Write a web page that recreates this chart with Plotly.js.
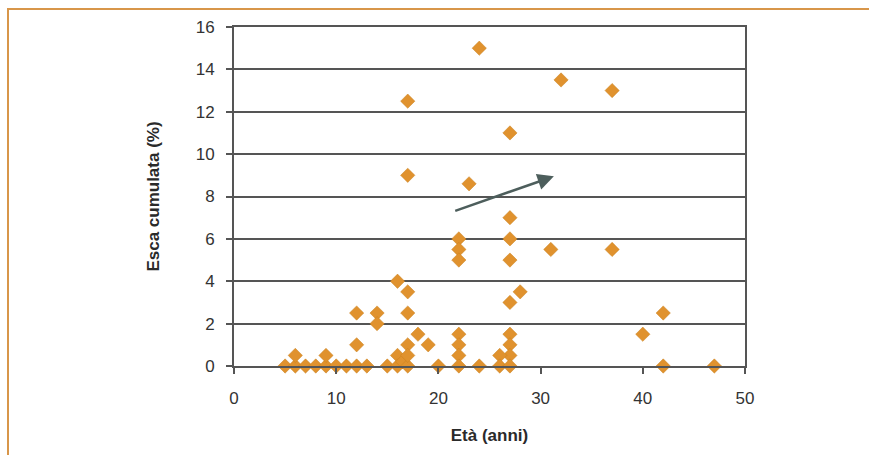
<!DOCTYPE html>
<html>
<head>
<meta charset="utf-8">
<script src="https://cdn.plot.ly/plotly-3.0.1.min.js"></script>
<style>
  html, body { margin: 0; padding: 0; background: #ffffff; }
  #wrap { position: relative; width: 869px; height: 455px; overflow: hidden; }
  #chart { position: absolute; left: 0; top: 0; width: 869px; height: 455px; }
  #frame { position: absolute; left: 7px; top: 8px; width: 900px; height: 500px;
           border-top: 2px solid #D8964A; border-left: 2px solid #D8964A; pointer-events: none; }
</style>
</head>
<body>
<div id="wrap">
  <div id="chart"></div>
  <div id="frame"></div>
</div>
<script>
// Età (anni) of each observation
const eta = [
  24, 32, 37, 17, 27, 17, 23,
  27, 27, 27, 22, 22, 22, 31, 37,
  16, 17, 17, 12, 14, 14, 12, 18, 17, 19, 16, 28, 27, 42, 40,
  22, 22, 22, 27, 27, 27, 26,
  5, 6, 6, 7, 8, 9, 9, 10, 11, 12, 13, 15, 16, 16.5, 17, 17, 20, 22, 24, 26, 27, 42, 47
];
// Esca cumulata (%) of each observation
const esca = [
  15, 13.5, 13, 12.5, 11, 9, 8.6,
  7, 6, 5, 6, 5.5, 5, 5.5, 5.5,
  4, 3.5, 2.5, 2.5, 2.5, 2, 1, 1.5, 1, 1, 0.5, 3.5, 3, 2.5, 1.5,
  1.5, 1, 0.5, 1.5, 1, 0.5, 0.5,
  0, 0, 0.5, 0, 0, 0, 0.5, 0, 0, 0, 0, 0, 0, 0.2, 0, 0.5, 0, 0, 0, 0, 0, 0, 0
];
// trend arrow (tail, head) in data units
const arrowTail = [21.5, 7.3];
const arrowHead = [31.3, 8.95];
const xTicks = [0, 10, 20, 30, 40, 50];
const yTicks = [0, 2, 4, 6, 8, 10, 12, 14, 16];

const trace = {
  x: eta, y: esca, type: 'scatter', mode: 'markers',
  marker: { symbol: 'diamond', size: 11, color: '#E0922E',
            line: { color: '#C9801F', width: 0.5 } },
  hoverinfo: 'x+y', cliponaxis: false
};

const axisFont = { family: 'Liberation Sans, Arial, sans-serif', size: 17, color: '#333333' };
const titleFont = { family: 'Liberation Sans, Arial, sans-serif', size: 17, color: '#2a2a2a', weight: 'bold' };

const layout = {
  width: 869, height: 455,
  margin: { l: 234, r: 124, t: 27, b: 89 },
  paper_bgcolor: '#ffffff', plot_bgcolor: '#ffffff',
  showlegend: false,
  xaxis: {
    range: [0, 50], tickvals: xTicks, ticktext: xTicks.map(String),
    showgrid: false, zeroline: false,
    showline: true, linecolor: '#555555', linewidth: 2, mirror: true,
    ticks: 'outside', ticklen: 6, tickcolor: '#555555', tickwidth: 2,
    ticklabelstandoff: 10,
    tickfont: axisFont,
    title: { text: 'Età (anni)', font: titleFont, standoff: 22 }
  },
  yaxis: {
    range: [0, 16], tickvals: yTicks, ticktext: yTicks.map(String),
    showgrid: true, gridcolor: '#555555', gridwidth: 2, zeroline: false,
    showline: true, linecolor: '#555555', linewidth: 2, mirror: true,
    ticks: 'outside', ticklen: 6, tickcolor: '#555555', tickwidth: 2,
    ticklabelstandoff: 8,
    tickfont: axisFont,
    title: { text: 'Esca cumulata (%)', font: titleFont, standoff: 32 }
  },
  annotations: [{
    x: arrowHead[0], y: arrowHead[1], ax: arrowTail[0], ay: arrowTail[1],
    xref: 'x', yref: 'y', axref: 'x', ayref: 'y',
    text: '', showarrow: true, arrowhead: 2, arrowsize: 1.3, arrowwidth: 2.5,
    arrowcolor: '#4D5E5C'
  }]
};

Plotly.newPlot('chart', [trace], layout, { displayModeBar: false, staticPlot: true });
</script>
</body>
</html>
